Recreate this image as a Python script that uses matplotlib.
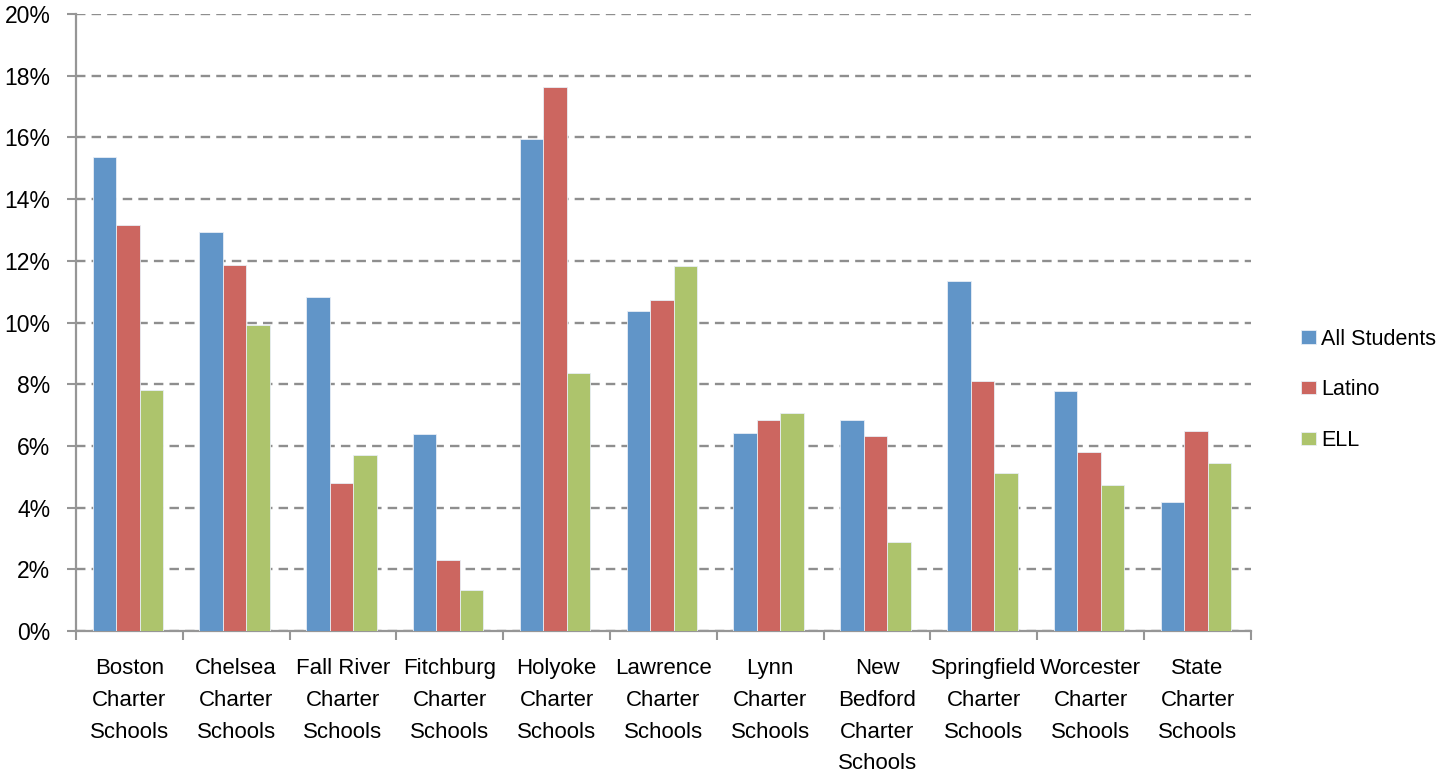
import numpy as np
import matplotlib
matplotlib.use('Agg')
import matplotlib.pyplot as plt
from matplotlib.ticker import FuncFormatter, FixedLocator

plt.rcParams['font.family'] = ['Liberation Sans', 'DejaVu Sans']

# 数据
categories = ['Boston\nCharter\nSchools', 'Chelsea\nCharter\nSchools', 'Fall River\nCharter\nSchools',
              'Fitchburg\nCharter\nSchools', 'Holyoke\nCharter\nSchools', 'Lawrence\nCharter\nSchools',
              'Lynn\nCharter\nSchools', 'New\nBedford\nCharter\nSchools', 'Springfield\nCharter\nSchools',
              'Worcester\nCharter\nSchools', 'State\nCharter\nSchools']
all_students = [15.38, 12.95, 10.83, 6.39, 15.94, 10.36, 6.43, 6.85, 11.35, 7.78, 4.19]
latino = [13.17, 11.88, 4.81, 2.29, 17.62, 10.74, 6.83, 6.31, 8.12, 5.81, 6.48]
ell = [7.80, 9.93, 5.71, 1.34, 8.35, 11.83, 7.06, 2.88, 5.12, 4.74, 5.46]
series_names = ['All Students', 'Latino', 'ELL']
colors = ['#6195C8', '#CC6660', '#ADC46C']

fig = plt.figure(figsize=(14.39, 7.75), dpi=100)
ax = fig.add_axes([0.0528, 0.1858, 0.8165, 0.7961])

x = np.arange(len(categories))
w = 0.22
for i, (vals, name, c) in enumerate(zip([all_students, latino, ell], series_names, colors)):
    ax.bar(x + (i - 1) * w - 0.015, vals, width=w, color=c, edgecolor='#E8EEF5', linewidth=0.6,
           label=name, zorder=3)

ax.set_xlim(-0.5, len(categories) - 0.5)
ax.set_ylim(0, 20)
ax.set_yticks(np.arange(0, 21, 2))
ax.yaxis.set_major_formatter(FuncFormatter(lambda v, p: '%d%%' % v))
ax.grid(axis='y', linestyle=(0, (4, 2.6)), color='#8E8E8E', linewidth=1.7, zorder=0)

# x 轴刻度放在类别边界，标签居中
ax.xaxis.set_major_locator(FixedLocator(np.arange(-0.5, len(categories), 1)))
ax.xaxis.set_major_formatter(plt.NullFormatter())
ax.xaxis.set_minor_locator(FixedLocator(x))
ax.set_xticklabels(categories, minor=True, fontsize=16, linespacing=1.67, va='top')
ax.tick_params(axis='x', which='minor', length=0, pad=19.5)
ax.tick_params(axis='x', which='major', length=6.5, width=1.5, color='#969696')
ax.tick_params(axis='y', length=6.5, width=1.5, color='#969696', labelsize=16.5, pad=12)

for s in ['top', 'right']:
    ax.spines[s].set_visible(False)
for s in ['left', 'bottom']:
    ax.spines[s].set_color('#969696')
    ax.spines[s].set_linewidth(1.6)

fig.legend(loc='center left', bbox_to_anchor=(0.904, 0.497), frameon=False, fontsize=15.5,
           handlelength=0.7, handleheight=0.56, handletextpad=0.23, labelspacing=1.38,
           borderpad=0, borderaxespad=0)

plt.savefig('out.png', dpi=100)
